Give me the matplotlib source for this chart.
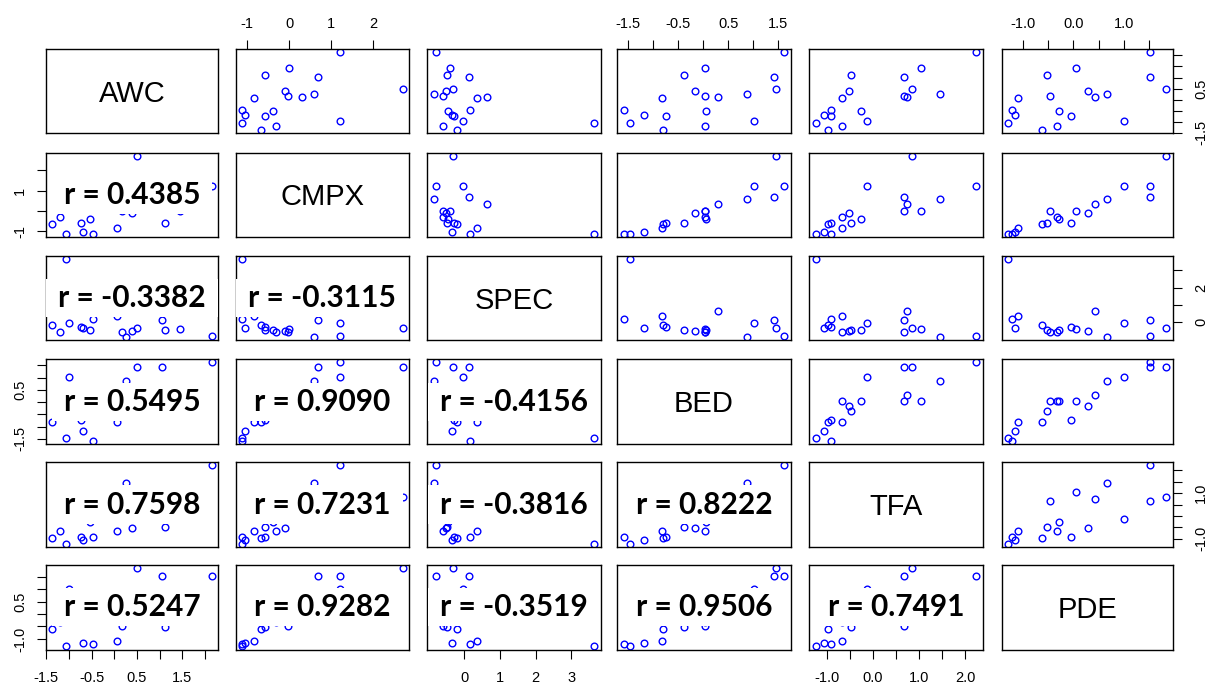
import matplotlib
matplotlib.use("Agg")
import matplotlib.pyplot as plt
from matplotlib.path import Path

# Standardised soil/terrain variables, 18 sites
names = ["AWC", "CMPX", "SPEC", "BED", "TFA", "PDE"]

awc  = [2.15, 1.44, 1.11, 1.04, 0.50, 0.385, 0.25, 0.18, 0.12, 0.06,
        -0.46, -0.53, -0.68, -0.74, -0.99, -1.07, -1.19, -1.37]
cmpx = [1.21, 0.00, -0.58, 0.69, 2.71, -0.10, 0.60, -0.02, 0.32, -0.84,
        -1.12, -0.38, -1.04, -0.58, 1.21, -1.12, -0.30, -0.66]
spec = [-0.80, -0.39, -0.47, 0.14, -0.31, -0.52, -0.85, -0.59, 0.63, 0.35,
        0.17, -0.44, -0.35, -0.27, -0.03, 3.64, -0.59, -0.19]
bed  = [1.62, 0.03, -0.38, 1.42, 1.45, -0.15, 0.87, 0.03, 0.29, -0.82,
        -1.58, 0.06, -1.17, -0.73, 1.01, -1.46, 0.03, -0.79]
tfa  = [2.24, 1.04, -0.48, 0.67, 0.85, -0.51, 1.46, 0.67, 0.73, -0.67,
        -0.91, -0.25, -1.05, -0.91, -0.12, -1.24, -0.67, -0.98]
pde  = [1.53, 0.05, -0.53, 1.53, 1.85, 0.30, 0.67, -0.47, 0.44, -1.10,
        -1.22, -0.28, -1.16, -0.05, 1.01, -1.30, -0.33, -0.62]

data = [awc, cmpx, spec, bed, tfa, pde]

# Pearson correlations printed in the lower triangle (row, column)
r_values = {
    (1, 0): "0.4385",
    (2, 0): "-0.3382", (2, 1): "-0.3115",
    (3, 0): "0.5495", (3, 1): "0.9090", (3, 2): "-0.4156",
    (4, 0): "0.7598", (4, 1): "0.7231", (4, 2): "-0.3816", (4, 3): "0.8222",
    (5, 0): "0.5247", (5, 1): "0.9282", (5, 2): "-0.3519", (5, 3): "0.9506",
    (5, 4): "0.7491",
}

# Axis ticks per variable and the labels written on the outer margins
ticks = [
    [-1.5, -1.0, -0.5, 0.0, 0.5, 1.0, 1.5, 2.0],
    [-1, 0, 1, 2],
    [0, 1, 2, 3],
    [-1.5, -1.0, -0.5, 0.0, 0.5, 1.0, 1.5],
    [-1.0, -0.5, 0.0, 0.5, 1.0, 1.5, 2.0],
    [-1.0, -0.5, 0.0, 0.5, 1.0, 1.5],
]
horiz_labels = [
    {-1.5: "-1.5", -0.5: "-0.5", 0.5: "0.5", 1.5: "1.5"},
    {-1: "-1", 0: "0", 1: "1", 2: "2"},
    {0: "0", 1: "1", 2: "2", 3: "3"},
    {-1.5: "-1.5", -0.5: "-0.5", 0.5: "0.5", 1.5: "1.5"},
    {-1.0: "-1.0", 0.0: "0.0", 1.0: "1.0", 2.0: "2.0"},
    {-1.0: "-1.0", 0.0: "0.0", 1.0: "1.0"},
]
vert_labels = [
    {-1.5: "-1.5", 0.5: "0.5"},
    {-1: "-1", 1: "1"},
    {0: "0", 2: "2"},
    {-1.5: "-1.5", 0.5: "0.5"},
    {-1.0: "-1.0", 1.0: "1.0"},
    {-1.0: "-1.0", 0.5: "0.5"},
]

W, H = 1208, 687
col_left = [45.7, 235.7, 427.3, 617.3, 809.3, 1001.7]
col_right = [218.3, 409.0, 600.7, 790.7, 982.7, 1172.7]
row_top = [49.0, 152.7, 256.0, 359.3, 461.7, 565.0]
row_bottom = [133.0, 236.7, 340.0, 444.0, 547.3, 649.5]

tick_font = dict(family="Liberation Sans", size=10.5)


def limits(v):
    lo, hi = min(v), max(v)
    d = 0.04 * (hi - lo)
    return lo - d, hi + d


def wide_box(x0, y0, width, height, mutation_size):
    px = 0.40 * mutation_size
    py = 0.17 * mutation_size
    x0 -= px
    y0 -= py
    x1 = x0 + width + 2 * px
    y1 = y0 + height + 2 * py
    return Path([(x0, y0), (x1, y0), (x1, y1), (x0, y1), (x0, y0)],
                closed=True)


def label_list(tks, shown):
    return [shown.get(t, "") for t in tks]


fig = plt.figure(figsize=(W / 100, H / 100), dpi=100)
n = len(names)

for i in range(n):
    for j in range(n):
        l, r = col_left[j], col_right[j]
        t, b = row_top[i], row_bottom[i]
        ax = fig.add_axes([l / W, 1 - b / H, (r - l) / W, (b - t) / H])
        ax.set_xlim(*limits(data[j]))
        ax.set_ylim(*limits(data[i]))
        for sp in ax.spines.values():
            sp.set_linewidth(1.0)
            sp.set_color("black")
        ax.set_xticks([])
        ax.set_yticks([])
        ax.tick_params(direction="out", length=6.5, width=0.8,
                       colors="black")

        if i == j:
            ax.text(0.5, 0.47, names[i], transform=ax.transAxes,
                    ha="center", va="center", fontsize=21,
                    family="Liberation Sans")
        else:
            ax.plot(data[j], data[i], linestyle="none", marker="o",
                    markersize=4.8, markerfacecolor="none",
                    markeredgecolor="#0000ff", markeredgewidth=1.0,
                    zorder=1)
            if i > j:
                ax.text(0.5, 0.5, "r = " + r_values[(i, j)],
                        transform=ax.transAxes, ha="center", va="center",
                        fontsize=21.5, fontweight="bold", family="Lato",
                        bbox=dict(boxstyle=wide_box, facecolor="white",
                                  edgecolor="none"),
                        zorder=5)

        # outer axes alternate sides as in a classic pairs plot
        if i == 0 and j % 2 == 1:
            ax.xaxis.set_ticks_position("top")
            ax.set_xticks(ticks[j])
            ax.set_xticklabels(label_list(ticks[j], horiz_labels[j]),
                               **tick_font)
            ax.tick_params(axis="x", pad=6.5)
        if i == n - 1 and j % 2 == 0:
            ax.xaxis.set_ticks_position("bottom")
            ax.set_xticks(ticks[j])
            ax.set_xticklabels(label_list(ticks[j], horiz_labels[j]),
                               **tick_font)
            ax.tick_params(axis="x", pad=9)
        if j == 0 and i % 2 == 1:
            ax.yaxis.set_ticks_position("left")
            ax.set_yticks(ticks[i])
            ax.set_yticklabels(label_list(ticks[i], vert_labels[i]),
                               rotation=90, va="center", **tick_font)
            ax.tick_params(axis="y", pad=7)
        if j == n - 1 and i % 2 == 0:
            ax.yaxis.set_ticks_position("right")
            ax.set_yticks(ticks[i])
            ax.set_yticklabels(label_list(ticks[i], vert_labels[i]),
                               rotation=90, va="center", **tick_font)
            ax.tick_params(axis="y", pad=9)

fig.savefig("out.png", dpi=100, facecolor="white")
